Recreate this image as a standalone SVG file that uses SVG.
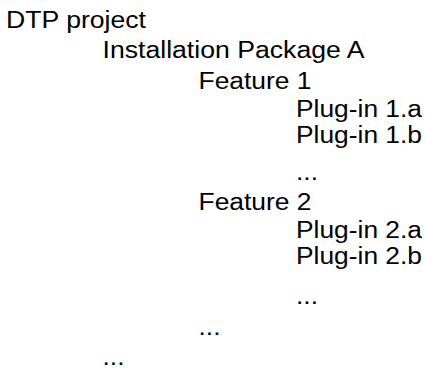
<svg xmlns="http://www.w3.org/2000/svg" width="425" height="369" viewBox="0 0 425 369">
<style>
text{font-family:"Liberation Sans",Arial,sans-serif;font-size:23px;fill:#000}
</style>
<rect width="425" height="369" fill="#fff"/>
<g id="dtp-project"><text x="6" y="28" textLength="140" lengthAdjust="spacingAndGlyphs">DTP project</text></g>
<g id="package-a"><text x="102.5" y="57.5" textLength="262" lengthAdjust="spacingAndGlyphs">Installation Package A</text></g>
<g id="feature-1"><text x="198.5" y="88.5" textLength="113" lengthAdjust="spacingAndGlyphs">Feature 1</text></g>
<g id="plugin-1a"><text x="296" y="117" textLength="126" lengthAdjust="spacingAndGlyphs">Plug-in 1.a</text></g>
<g id="plugin-1b"><text x="296" y="143" textLength="126" lengthAdjust="spacingAndGlyphs">Plug-in 1.b</text></g>
<g id="plugin-1-more"><text x="296" y="180" textLength="22" lengthAdjust="spacingAndGlyphs">...</text></g>
<g id="feature-2"><text x="198.5" y="209.5" textLength="113" lengthAdjust="spacingAndGlyphs">Feature 2</text></g>
<g id="plugin-2a"><text x="296" y="237.5" textLength="126" lengthAdjust="spacingAndGlyphs">Plug-in 2.a</text></g>
<g id="plugin-2b"><text x="296" y="263.5" textLength="126" lengthAdjust="spacingAndGlyphs">Plug-in 2.b</text></g>
<g id="plugin-2-more"><text x="296" y="304" textLength="22" lengthAdjust="spacingAndGlyphs">...</text></g>
<g id="feature-more"><text x="198.5" y="335" textLength="22" lengthAdjust="spacingAndGlyphs">...</text></g>
<g id="package-more"><text x="102.5" y="365" textLength="22" lengthAdjust="spacingAndGlyphs">...</text></g>
<g id="connectors"></g>
</svg>
